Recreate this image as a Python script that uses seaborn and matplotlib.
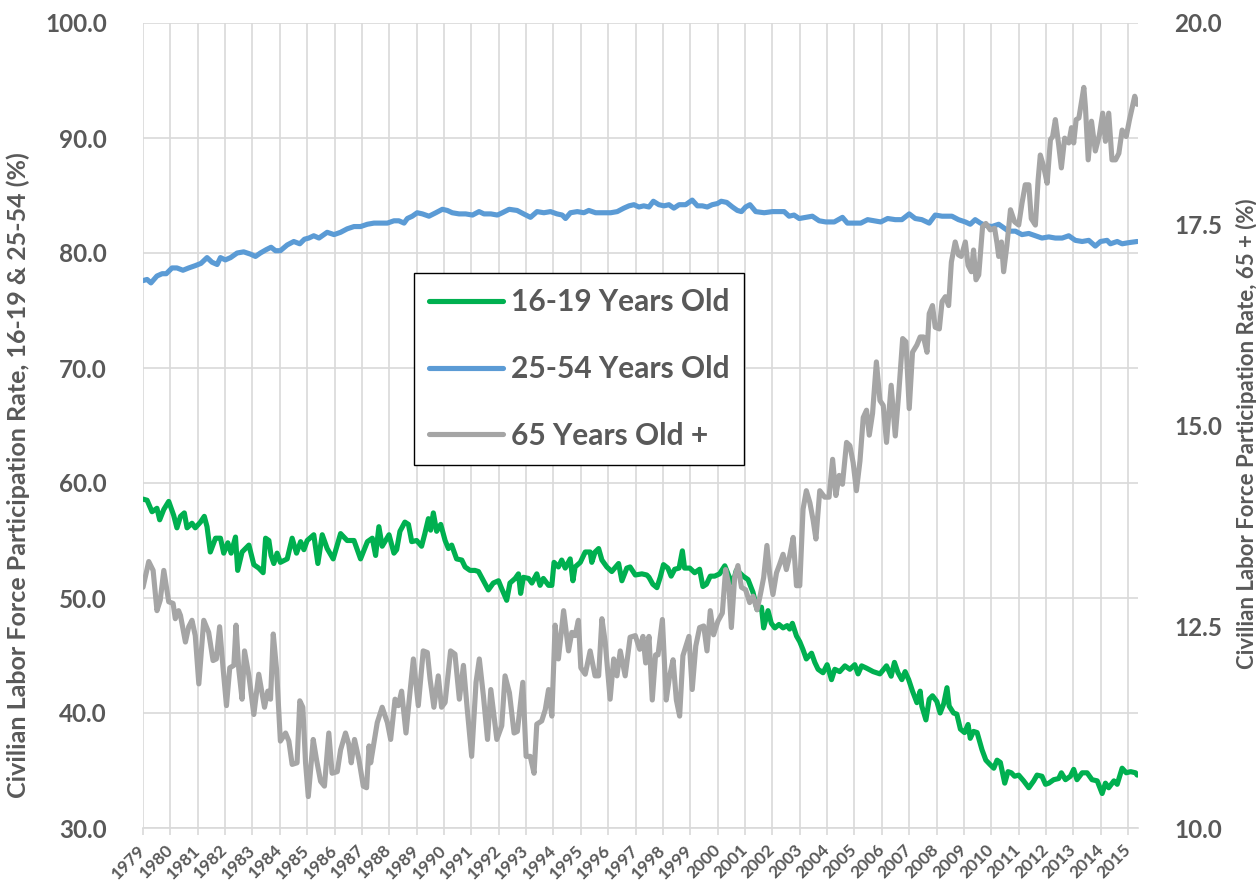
import matplotlib
matplotlib.use("Agg")
import matplotlib.pyplot as plt
from matplotlib.ticker import FormatStrFormatter
import seaborn as sns
import pandas as pd

# values (decimal year, percent)
teen_years = [1979.00, 1979.15, 1979.33, 1979.51, 1979.61, 1979.76, 1979.94, 1980.12, 1980.24, 1980.37,
              1980.51, 1980.61, 1980.79, 1980.91, 1981.10, 1981.24, 1981.34, 1981.46, 1981.65, 1981.83,
              1981.95, 1982.10, 1982.22, 1982.38, 1982.46, 1982.62, 1982.87, 1983.05, 1983.23, 1983.39,
              1983.48, 1983.60, 1983.68, 1983.78, 1983.90, 1984.02, 1984.27, 1984.45, 1984.61, 1984.76,
              1984.88, 1985.00, 1985.24, 1985.39, 1985.55, 1985.73, 1985.95, 1986.22, 1986.46, 1986.71,
              1986.95, 1987.20, 1987.38, 1987.50, 1987.62, 1987.74, 1987.99, 1988.17, 1988.27, 1988.39,
              1988.57, 1988.70, 1988.82, 1989.00, 1989.18, 1989.30, 1989.43, 1989.51, 1989.61, 1989.73,
              1989.88, 1990.04, 1990.16, 1990.28, 1990.46, 1990.65, 1990.77, 1990.95, 1991.13, 1991.26,
              1991.44, 1991.62, 1991.80, 1991.99, 1992.11, 1992.29, 1992.41, 1992.60, 1992.72, 1992.80,
              1992.90, 1993.09, 1993.21, 1993.39, 1993.51, 1993.63, 1993.82, 1993.94, 1994.02, 1994.18,
              1994.30, 1994.43, 1994.61, 1994.71, 1994.79, 1994.98, 1995.16, 1995.34, 1995.40, 1995.52,
              1995.65, 1995.77, 1995.95, 1996.13, 1996.38, 1996.50, 1996.68, 1996.80, 1996.99, 1997.23,
              1997.41, 1997.49, 1997.63, 1997.78, 1997.90, 1998.02, 1998.18, 1998.30, 1998.43, 1998.59,
              1998.71, 1998.79, 1998.98, 1999.16, 1999.34, 1999.46, 1999.59, 1999.73, 1999.89, 2000.07,
              2000.26, 2000.41, 2000.56, 2000.68, 2000.80, 2000.93, 2001.11, 2001.29, 2001.44, 2001.60,
              2001.68, 2001.84, 2001.96, 2002.09, 2002.24, 2002.39, 2002.54, 2002.63, 2002.73, 2002.88,
              2003.00, 2003.12, 2003.24, 2003.43, 2003.55, 2003.67, 2003.85, 2004.00, 2004.16, 2004.28,
              2004.46, 2004.65, 2004.83, 2005.01, 2005.13, 2005.26, 2005.44, 2005.68, 2005.93, 2006.17,
              2006.34, 2006.46, 2006.59, 2006.73, 2006.85, 2006.98, 2007.12, 2007.28, 2007.40, 2007.46,
              2007.61, 2007.73, 2007.85, 2008.01, 2008.13, 2008.26, 2008.38, 2008.46, 2008.62, 2008.74,
              2008.87, 2009.02, 2009.15, 2009.23, 2009.35, 2009.48, 2009.66, 2009.80, 2009.96, 2010.09,
              2010.21, 2010.33, 2010.49, 2010.61, 2010.73, 2010.85, 2011.00, 2011.18, 2011.37, 2011.55,
              2011.67, 2011.85, 2011.98, 2012.10, 2012.28, 2012.46, 2012.56, 2012.71, 2012.89, 2013.01,
              2013.13, 2013.32, 2013.50, 2013.68, 2013.87, 2014.05, 2014.17, 2014.29, 2014.48, 2014.60,
              2014.78, 2014.93, 2015.09, 2015.27, 2015.33]
teen_rate = [58.6, 58.5, 57.5, 57.8, 56.8, 57.7, 58.4, 57.2, 56.1, 57.1,
             57.4, 56.1, 56.5, 56.1, 56.6, 57.1, 56.2, 54.0, 55.2, 55.2,
             53.9, 54.8, 53.9, 55.3, 52.4, 54.0, 54.6, 52.9, 52.6, 52.2,
             55.2, 55.0, 53.7, 53.0, 53.9, 53.1, 53.4, 55.2, 53.9, 54.9,
             54.2, 55.0, 55.5, 53.0, 55.5, 54.3, 53.4, 55.6, 55.0, 55.0,
             53.4, 54.9, 55.2, 53.7, 56.2, 54.5, 55.5, 53.9, 54.2, 55.8,
             56.6, 56.4, 54.9, 55.0, 54.5, 55.6, 56.9, 55.9, 57.4, 55.8,
             56.4, 55.0, 54.3, 54.6, 53.4, 53.3, 52.7, 52.4, 52.4, 52.3,
             51.5, 50.7, 51.3, 51.5, 50.8, 49.8, 51.3, 51.7, 52.1, 50.4,
             51.8, 51.7, 51.3, 52.1, 51.1, 51.7, 51.1, 51.1, 53.1, 52.7,
             53.3, 52.6, 53.4, 51.5, 52.7, 53.1, 54.0, 54.0, 53.1, 54.0,
             54.3, 53.3, 52.7, 52.3, 53.0, 51.5, 52.6, 52.7, 52.0, 52.1,
             52.0, 51.8, 51.2, 50.9, 51.8, 52.9, 52.6, 51.9, 52.5, 52.6,
             54.1, 52.6, 52.6, 52.2, 52.5, 51.0, 51.2, 51.9, 51.9, 52.1,
             52.8, 51.9, 51.3, 52.4, 52.2, 51.9, 51.6, 50.5, 49.0, 49.2,
             47.4, 48.9, 47.8, 47.4, 47.7, 47.4, 47.6, 47.3, 47.8, 46.7,
             46.2, 45.5, 44.7, 45.2, 44.4, 43.8, 43.5, 44.2, 42.9, 43.8,
             43.6, 44.1, 43.8, 44.2, 43.4, 44.1, 43.9, 43.6, 43.4, 44.1,
             43.2, 44.4, 43.5, 42.9, 43.6, 42.9, 41.9, 40.9, 41.9, 40.6,
             39.4, 41.2, 41.5, 41.0, 40.0, 40.8, 42.2, 40.6, 40.0, 39.9,
             38.6, 38.3, 39.0, 37.8, 38.4, 38.3, 36.8, 35.9, 35.5, 35.2,
             35.9, 35.7, 33.9, 34.9, 34.8, 34.5, 34.6, 34.1, 33.5, 34.1,
             34.6, 34.5, 33.8, 33.9, 34.2, 34.3, 34.8, 34.2, 34.5, 35.1,
             34.2, 34.8, 34.8, 34.2, 34.1, 33.0, 33.9, 33.5, 34.1, 33.8,
             35.2, 34.8, 34.9, 34.8, 34.6]

prime_years = [1979.00, 1979.15, 1979.29, 1979.51, 1979.70, 1979.85, 1980.06, 1980.24, 1980.46, 1980.67,
               1980.91, 1981.12, 1981.34, 1981.52, 1981.71, 1981.83, 1982.01, 1982.20, 1982.44, 1982.68,
               1982.93, 1983.11, 1983.29, 1983.51, 1983.68, 1983.84, 1984.02, 1984.27, 1984.51, 1984.73,
               1984.90, 1985.06, 1985.24, 1985.43, 1985.73, 1985.98, 1986.22, 1986.46, 1986.71, 1986.95,
               1987.20, 1987.44, 1987.68, 1987.93, 1988.17, 1988.35, 1988.54, 1988.66, 1988.84, 1989.02,
               1989.21, 1989.45, 1989.70, 1989.94, 1990.12, 1990.30, 1990.55, 1990.79, 1991.04, 1991.28,
               1991.46, 1991.71, 1991.95, 1992.13, 1992.38, 1992.67, 1992.91, 1993.16, 1993.40, 1993.65,
               1993.89, 1994.13, 1994.32, 1994.44, 1994.62, 1994.87, 1995.11, 1995.29, 1995.54, 1995.78,
               1996.09, 1996.33, 1996.57, 1996.76, 1996.94, 1997.12, 1997.30, 1997.49, 1997.65, 1997.85,
               1998.04, 1998.22, 1998.40, 1998.59, 1998.83, 1999.07, 1999.26, 1999.44, 1999.62, 1999.80,
               1999.99, 2000.13, 2000.33, 2000.54, 2000.72, 2000.87, 2001.02, 2001.18, 2001.39, 2001.70,
               2002.00, 2002.24, 2002.43, 2002.61, 2002.79, 2002.98, 2003.22, 2003.46, 2003.71, 2003.95,
               2004.26, 2004.56, 2004.74, 2004.99, 2005.23, 2005.48, 2005.72, 2005.96, 2006.21, 2006.49,
               2006.73, 2007.00, 2007.22, 2007.46, 2007.73, 2007.95, 2008.20, 2008.56, 2008.80, 2009.05,
               2009.23, 2009.41, 2009.60, 2009.78, 2010.02, 2010.27, 2010.45, 2010.63, 2010.88, 2011.12,
               2011.37, 2011.61, 2011.85, 2012.10, 2012.34, 2012.59, 2012.83, 2013.07, 2013.32, 2013.56,
               2013.80, 2013.99, 2014.23, 2014.35, 2014.60, 2014.78, 2015.02, 2015.33]
prime_rate = [77.6, 77.7, 77.4, 78.0, 78.2, 78.2, 78.7, 78.7, 78.5, 78.7,
              78.9, 79.1, 79.6, 79.2, 79.0, 79.6, 79.4, 79.6, 80.0, 80.1,
              79.9, 79.7, 80.0, 80.3, 80.5, 80.2, 80.2, 80.7, 81.0, 80.8,
              81.2, 81.3, 81.5, 81.3, 81.8, 81.6, 81.8, 82.1, 82.3, 82.3,
              82.5, 82.6, 82.6, 82.6, 82.8, 82.8, 82.6, 83.0, 83.2, 83.5,
              83.4, 83.2, 83.5, 83.8, 83.7, 83.5, 83.4, 83.4, 83.3, 83.6,
              83.4, 83.4, 83.3, 83.5, 83.8, 83.7, 83.4, 83.1, 83.6, 83.5,
              83.6, 83.4, 83.3, 83.0, 83.5, 83.6, 83.5, 83.7, 83.5, 83.5,
              83.5, 83.6, 83.9, 84.1, 84.2, 84.0, 84.1, 84.0, 84.5, 84.2,
              84.1, 84.2, 83.9, 84.2, 84.2, 84.6, 84.1, 84.1, 84.0, 84.2,
              84.3, 84.5, 84.4, 84.0, 83.7, 83.6, 84.0, 84.2, 83.6, 83.5,
              83.6, 83.6, 83.6, 83.2, 83.3, 83.0, 83.1, 83.2, 82.8, 82.7,
              82.7, 83.1, 82.6, 82.6, 82.6, 82.9, 82.8, 82.7, 83.0, 82.9,
              82.9, 83.4, 83.0, 82.9, 82.6, 83.3, 83.2, 83.2, 82.9, 82.7,
              82.5, 82.9, 82.6, 82.4, 82.3, 82.5, 82.2, 81.9, 81.9, 81.6,
              81.7, 81.5, 81.3, 81.4, 81.3, 81.3, 81.5, 81.1, 81.0, 81.1,
              80.6, 81.0, 81.1, 80.8, 81.0, 80.8, 80.9, 81.0]

senior_years = [1979.00, 1979.21, 1979.37, 1979.51, 1979.63, 1979.76, 1979.94, 1980.10, 1980.18, 1980.30,
                1980.37, 1980.55, 1980.67, 1980.79, 1980.91, 1981.04, 1981.22, 1981.40, 1981.56, 1981.68,
                1981.80, 1981.93, 1982.05, 1982.17, 1982.32, 1982.40, 1982.50, 1982.62, 1982.71, 1982.87,
                1983.05, 1983.23, 1983.44, 1983.56, 1983.66, 1983.76, 1983.88, 1984.02, 1984.21, 1984.33,
                1984.45, 1984.63, 1984.73, 1984.84, 1984.94, 1985.04, 1985.22, 1985.34, 1985.49, 1985.63,
                1985.79, 1985.91, 1986.10, 1986.22, 1986.40, 1986.52, 1986.61, 1986.73, 1986.89, 1987.05,
                1987.17, 1987.26, 1987.32, 1987.56, 1987.74, 1987.93, 1988.05, 1988.21, 1988.33, 1988.45,
                1988.61, 1988.73, 1988.88, 1989.06, 1989.24, 1989.39, 1989.49, 1989.63, 1989.79, 1989.91,
                1990.04, 1990.24, 1990.40, 1990.56, 1990.71, 1990.85, 1991.01, 1991.17, 1991.29, 1991.44,
                1991.59, 1991.71, 1991.93, 1992.11, 1992.23, 1992.39, 1992.56, 1992.68, 1992.88, 1993.00,
                1993.15, 1993.29, 1993.39, 1993.57, 1993.70, 1993.82, 1993.94, 1994.06, 1994.18, 1994.37,
                1994.55, 1994.67, 1994.79, 1994.91, 1995.00, 1995.16, 1995.34, 1995.52, 1995.65, 1995.77,
                1995.89, 1996.07, 1996.20, 1996.32, 1996.44, 1996.62, 1996.80, 1996.99, 1997.15, 1997.27,
                1997.37, 1997.49, 1997.61, 1997.73, 1997.82, 1997.98, 1998.12, 1998.24, 1998.37, 1998.49,
                1998.61, 1998.73, 1998.95, 1999.07, 1999.20, 1999.34, 1999.49, 1999.61, 1999.73, 1999.85,
                2000.01, 2000.17, 2000.29, 2000.41, 2000.50, 2000.62, 2000.74, 2000.87, 2001.02, 2001.17,
                2001.29, 2001.44, 2001.56, 2001.68, 2001.80, 2001.90, 2002.02, 2002.15, 2002.27, 2002.39,
                2002.51, 2002.63, 2002.76, 2002.88, 2003.00, 2003.12, 2003.24, 2003.37, 2003.49, 2003.59,
                2003.73, 2003.91, 2004.07, 2004.20, 2004.32, 2004.44, 2004.56, 2004.71, 2004.83, 2004.95,
                2005.07, 2005.20, 2005.32, 2005.44, 2005.54, 2005.66, 2005.80, 2005.93, 2006.05, 2006.17,
                2006.34, 2006.49, 2006.61, 2006.76, 2006.88, 2007.00, 2007.12, 2007.28, 2007.40, 2007.52,
                2007.65, 2007.73, 2007.85, 2007.95, 2008.10, 2008.20, 2008.32, 2008.44, 2008.54, 2008.68,
                2008.80, 2008.90, 2009.05, 2009.15, 2009.27, 2009.35, 2009.44, 2009.54, 2009.68, 2009.80,
                2009.96, 2010.12, 2010.21, 2010.27, 2010.37, 2010.45, 2010.57, 2010.70, 2010.85, 2011.00,
                2011.12, 2011.24, 2011.37, 2011.46, 2011.61, 2011.71, 2011.79, 2011.91, 2012.04, 2012.16,
                2012.24, 2012.34, 2012.46, 2012.56, 2012.68, 2012.83, 2012.93, 2013.01, 2013.10, 2013.20,
                2013.32, 2013.38, 2013.44, 2013.54, 2013.66, 2013.80, 2013.95, 2014.07, 2014.17, 2014.29,
                2014.41, 2014.54, 2014.66, 2014.78, 2014.93, 2015.05, 2015.15, 2015.24, 2015.33]
senior_rate = [12.99, 13.31, 13.20, 12.70, 12.83, 13.20, 12.81, 12.79, 12.60, 12.70,
               12.64, 12.31, 12.50, 12.58, 12.39, 11.79, 12.58, 12.43, 12.08, 12.10,
               12.50, 11.97, 11.52, 11.99, 12.02, 12.52, 11.97, 11.60, 12.20, 11.89,
               11.41, 11.91, 11.50, 11.70, 11.60, 12.41, 11.97, 11.08, 11.18, 11.08,
               10.79, 10.81, 11.58, 11.50, 10.81, 10.39, 11.10, 10.85, 10.58, 10.52,
               11.18, 10.68, 10.70, 10.97, 11.18, 11.04, 10.81, 11.10, 10.85, 10.52,
               10.50, 11.02, 10.81, 11.31, 11.50, 11.31, 11.10, 11.60, 11.52, 11.70,
               11.18, 11.60, 12.10, 11.52, 12.20, 12.18, 11.85, 11.50, 11.89, 11.50,
               11.56, 12.20, 12.16, 11.60, 12.02, 11.47, 10.89, 11.81, 12.10, 11.64,
               11.10, 11.72, 11.10, 11.27, 11.89, 11.68, 11.18, 11.20, 11.81, 10.89,
               10.89, 10.68, 11.29, 11.33, 11.47, 11.72, 11.39, 12.52, 12.10, 12.70,
               12.20, 12.43, 12.39, 12.58, 11.99, 11.91, 12.20, 11.89, 11.89, 12.60,
               12.31, 11.60, 12.10, 11.89, 12.20, 11.89, 12.37, 12.39, 12.22, 12.38,
               12.05, 12.38, 11.59, 12.15, 12.15, 12.59, 11.59, 11.88, 12.09, 11.59,
               11.39, 12.14, 12.38, 11.72, 12.26, 12.49, 12.51, 12.20, 12.70, 12.40,
               12.57, 12.67, 13.21, 13.01, 12.49, 13.11, 13.26, 12.99, 12.96, 12.80,
               12.88, 12.71, 12.90, 13.11, 13.51, 13.15, 12.90, 13.17, 13.28, 13.40,
               13.21, 13.38, 13.61, 13.01, 13.01, 13.96, 14.19, 14.04, 13.82, 13.59,
               14.19, 14.11, 14.11, 14.58, 14.13, 14.38, 14.27, 14.79, 14.75, 14.54,
               14.19, 14.56, 15.10, 15.19, 14.88, 15.15, 15.79, 15.31, 15.25, 14.79,
               15.50, 14.87, 15.37, 16.08, 16.04, 15.21, 15.91, 16.00, 16.10, 16.10,
               15.91, 16.39, 16.49, 16.22, 16.20, 16.54, 16.60, 16.49, 17.03, 17.28,
               17.12, 17.10, 17.28, 16.99, 16.91, 17.18, 16.81, 16.87, 17.47, 17.51,
               17.43, 17.45, 17.26, 17.10, 17.28, 16.91, 17.24, 17.68, 17.53, 17.49,
               17.76, 17.99, 17.99, 17.57, 17.49, 18.05, 18.36, 18.22, 18.01, 18.55,
               18.59, 18.80, 18.49, 18.20, 18.57, 18.51, 18.70, 18.51, 18.80, 18.82,
               19.07, 19.20, 18.95, 18.30, 18.78, 18.41, 18.61, 18.88, 18.53, 18.88,
               18.30, 18.30, 18.38, 18.67, 18.59, 18.80, 18.95, 19.09, 18.99]

year_ticks = list(range(1979, 2016))
left_ticks = [30, 40, 50, 60, 70, 80, 90, 100]
right_ticks = [10.0, 12.5, 15.0, 17.5, 20.0]

sns.set_theme(style="white")
plt.rcParams['font.family'] = ['Lato', 'DejaVu Sans']
plt.rcParams['font.weight'] = 'bold'

txt = "#595959"
gridc = "#D9D9D9"

teen = pd.DataFrame({"year": teen_years, "rate": teen_rate})
prime = pd.DataFrame({"year": prime_years, "rate": prime_rate})
senior = pd.DataFrame({"year": senior_years, "rate": senior_rate})

fig = plt.figure(figsize=(12.56, 8.9), dpi=100)
ax = fig.add_axes([143 / 1256, 1 - 828 / 890, 995 / 1256, 805 / 890])
ax2 = ax.twinx()

sns.lineplot(data=teen, x="year", y="rate", ax=ax, color="#00B050", lw=3.7, label="16-19 Years Old")
sns.lineplot(data=prime, x="year", y="rate", ax=ax, color="#5B9BD5", lw=3.7, label="25-54 Years Old")
sns.lineplot(data=senior, x="year", y="rate", ax=ax2, color="#A5A5A5", lw=3.7, label="65 Years Old +")

ax.set_xlim(1979, 2015.36)
ax.set_ylim(30, 100)
ax2.set_ylim(10, 20)

ax.set_xticks(year_ticks)
ax.set_xticklabels([str(y) for y in year_ticks], rotation=45, ha="right", va="center",
                   rotation_mode="anchor")
ax.set_yticks(left_ticks)
ax2.set_yticks(right_ticks)
ax.yaxis.set_major_formatter(FormatStrFormatter("%.1f"))
ax2.yaxis.set_major_formatter(FormatStrFormatter("%.1f"))

ax.grid(True, color=gridc, lw=1.2)
ax2.grid(False)
for a in (ax, ax2):
    for s in a.spines.values():
        s.set_visible(False)
ax.spines["bottom"].set_visible(True)
ax.spines["bottom"].set_color(gridc)
ax.spines["bottom"].set_linewidth(1.2)

ax.tick_params(axis="x", bottom=True, length=5, width=1.2, color=gridc, labelsize=12.5,
               labelcolor=txt, pad=9)
ax.tick_params(axis="y", length=0, pad=26, labelsize=17.5, labelcolor=txt)
ax2.tick_params(axis="y", length=0, pad=26, labelsize=17.5, labelcolor=txt)

ax.set_xlabel("")
ax.set_ylabel("Civilian Labor Force Participation Rate, 16-19 & 25-54 (%)", fontsize=18,
              fontweight="bold", color=txt)
ax.yaxis.set_label_coords(-0.114, 0.4385)
ax2.set_ylabel("Civilian Labor Force Participation Rate, 65 + (%)", fontsize=16,
               fontweight="bold", color=txt)
ax2.yaxis.set_label_coords(1.098, 0.49)

h1, l1 = ax.get_legend_handles_labels()
h2, l2 = ax2.get_legend_handles_labels()
if ax.get_legend() is not None:
    ax.get_legend().remove()
leg = ax2.legend(h1 + h2, l1 + l2, loc="upper left", bbox_to_anchor=(0.272, 0.689),
                 frameon=True, fancybox=False, edgecolor="black", framealpha=1,
                 fontsize=21.5, labelcolor=txt, handlelength=2.5, handletextpad=0.25,
                 labelspacing=1.3, borderpad=0.5, borderaxespad=0)
leg.get_frame().set_linewidth(1.0)

fig.savefig("out.png", dpi=100)
